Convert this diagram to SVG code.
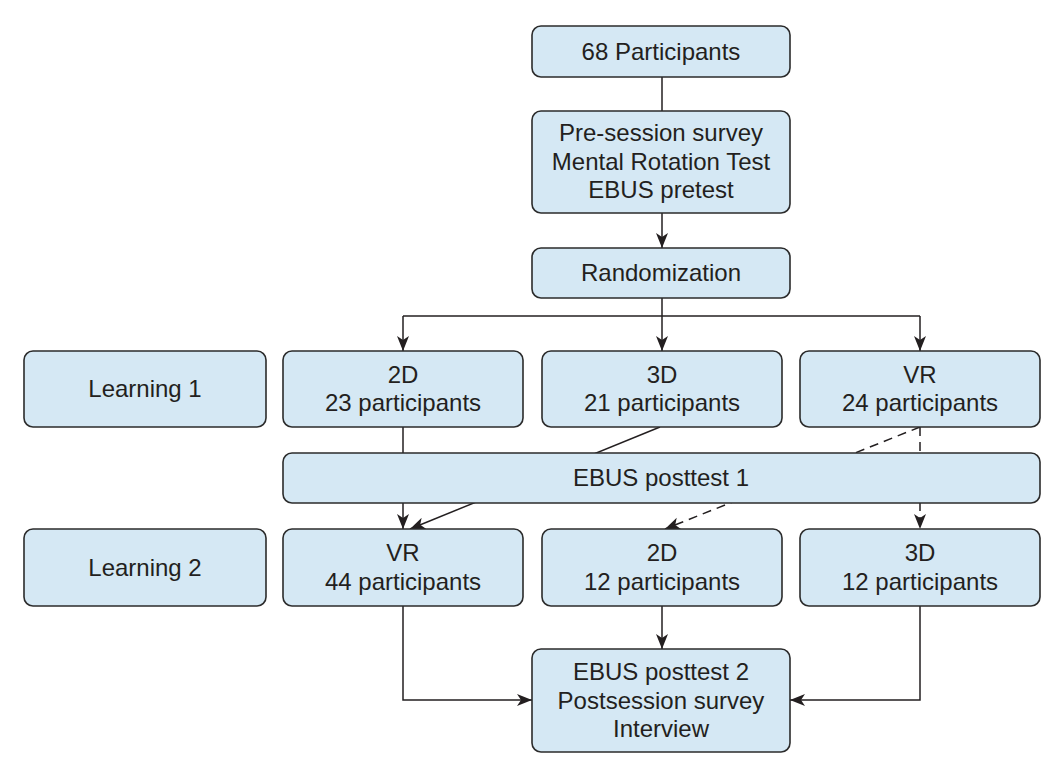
<svg xmlns="http://www.w3.org/2000/svg" width="1063" height="776" viewBox="0 0 1063 776">
<style>
.box{fill:#d5e8f4;stroke:#2b2b2b;stroke-width:1.6}
.t{font-family:"Liberation Sans",Arial,sans-serif;font-size:24px;fill:#231f20;text-anchor:middle}
.c{fill:none;stroke:#231f20;stroke-width:1.5}
.d{stroke-dasharray:9 6}
</style>
<defs>
<marker id="ah" markerUnits="userSpaceOnUse" markerWidth="15" markerHeight="13" refX="15" refY="6.5" orient="auto">
<path d="M0,0.5 L15,6.5 L0,12.5 L4,6.5 z" fill="#231f20"/>
</marker>
</defs>
<rect width="1063" height="776" fill="#ffffff"/>
<g id="connectors">
<line class="c" x1="662" y1="77" x2="662" y2="111"/>
<line class="c" x1="662" y1="213" x2="662" y2="248" marker-end="url(#ah)"/>
<line class="c" x1="662" y1="298" x2="662" y2="351" marker-end="url(#ah)"/>
<line class="c" x1="403" y1="316" x2="920" y2="316"/>
<line class="c" x1="403" y1="316" x2="403" y2="351" marker-end="url(#ah)"/>
<line class="c" x1="920" y1="316" x2="920" y2="351" marker-end="url(#ah)"/>
<line class="c" x1="403" y1="427" x2="403" y2="529" marker-end="url(#ah)"/>
<line class="c" x1="660" y1="427" x2="410" y2="529" marker-end="url(#ah)"/>
<line class="c d" x1="920" y1="427" x2="665" y2="529" marker-end="url(#ah)"/>
<line class="c d" x1="920" y1="427" x2="920" y2="529" marker-end="url(#ah)"/>
<polyline class="c" points="403,606 403,700 532,700" marker-end="url(#ah)"/>
<line class="c" x1="662" y1="606" x2="662" y2="649" marker-end="url(#ah)"/>
<polyline class="c" points="920,606 920,700 790,700" marker-end="url(#ah)"/>
</g>
<g id="n_participants"><rect class="box" x="532" y="26" width="258" height="51" rx="9"/><text class="t" x="661" y="59.5">68 Participants</text></g>
<g id="n_presession"><rect class="box" x="532" y="111" width="258" height="102" rx="9"/><text class="t" x="661" y="141">Pre-session survey</text><text class="t" x="661" y="169.5">Mental Rotation Test</text><text class="t" x="661" y="198">EBUS pretest</text></g>
<g id="n_random"><rect class="box" x="532" y="248" width="258" height="50" rx="9"/><text class="t" x="661" y="281">Randomization</text></g>
<g id="n_learning1"><rect class="box" x="24" y="351" width="242" height="76" rx="9"/><text class="t" x="145" y="397">Learning 1</text></g>
<g id="n_2d_1"><rect class="box" x="283" y="351" width="240" height="76" rx="9"/><text class="t" x="403" y="382.5">2D</text><text class="t" x="403" y="411">23 participants</text></g>
<g id="n_3d_1"><rect class="box" x="542" y="351" width="240" height="76" rx="9"/><text class="t" x="662" y="382.5">3D</text><text class="t" x="662" y="411">21 participants</text></g>
<g id="n_vr_1"><rect class="box" x="800" y="351" width="240" height="76" rx="9"/><text class="t" x="920" y="382.5">VR</text><text class="t" x="920" y="411">24 participants</text></g>
<g id="n_post1"><rect class="box" x="283" y="453" width="757" height="50" rx="9"/><text class="t" x="661" y="486">EBUS posttest 1</text></g>
<g id="n_learning2"><rect class="box" x="24" y="529" width="242" height="77" rx="9"/><text class="t" x="145" y="575.5">Learning 2</text></g>
<g id="n_vr_2"><rect class="box" x="283" y="529" width="240" height="77" rx="9"/><text class="t" x="403" y="561">VR</text><text class="t" x="403" y="589.5">44 participants</text></g>
<g id="n_2d_2"><rect class="box" x="542" y="529" width="240" height="77" rx="9"/><text class="t" x="662" y="561">2D</text><text class="t" x="662" y="589.5">12 participants</text></g>
<g id="n_3d_2"><rect class="box" x="800" y="529" width="240" height="77" rx="9"/><text class="t" x="920" y="561">3D</text><text class="t" x="920" y="589.5">12 participants</text></g>
<g id="n_final"><rect class="box" x="532" y="649" width="258" height="103" rx="9"/><text class="t" x="661" y="680">EBUS posttest 2</text><text class="t" x="661" y="708.5">Postsession survey</text><text class="t" x="661" y="737">Interview</text></g>
</svg>
